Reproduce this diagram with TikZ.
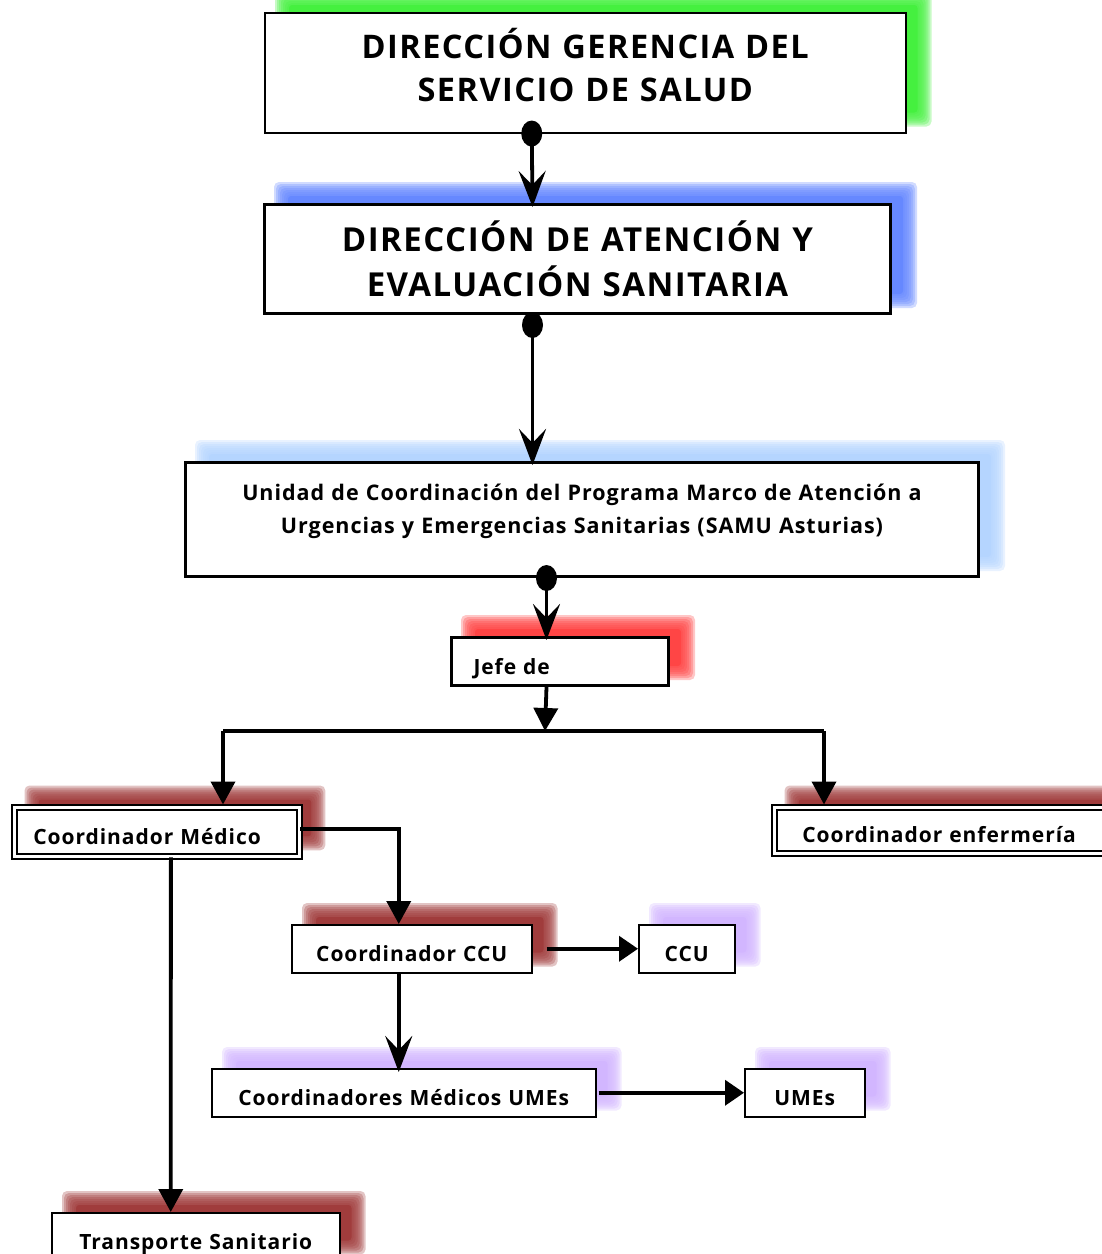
\documentclass[tikz,border=0pt]{standalone}
\usepackage{fontspec}
\setmainfont{Open Sans}[LetterSpace=4.5]
\usetikzlibrary{arrows.meta,calc}
\pgfdeclarelayer{background}
\pgfsetlayers{background,main}
\definecolor{shgreen}{HTML}{45F03F}
\definecolor{shblue}{HTML}{6688FF}
\definecolor{shlblue}{HTML}{B5D5FF}
\definecolor{shred}{HTML}{FF4545}
\definecolor{shdark}{HTML}{A03C3C}
\definecolor{shlav}{HTML}{D2B6FF}
\newcommand\glow[2]{%
 \begin{pgfonlayer}{background}
 \foreach \k in {0,...,6}{
   \fill[#2, fill opacity=0.3, rounded corners=5pt] ($(#1.north west)+({11+2*\k},{-21+2*\k})$) rectangle ($(#1.south east)+({25-2*\k},{-7-2*\k})$);
 }
 \fill[#2, rounded corners=3pt] ($(#1.north west)+(25,-7)$) rectangle ($(#1.south east)+(11,-21)$);
 \end{pgfonlayer}}
\tikzset{
 box/.style={draw, fill=white, anchor=north west, inner ysep=0pt},
 thinb/.style={line width=1.5pt},
 thickb/.style={line width=3pt},
 dblb/.style={line width=1.8pt, double=white, double distance=2.6pt},
 small/.style={font=\bfseries\fontsize{21}{25}\selectfont, text height=28pt, text depth=3pt},
 conn/.style={line width=3.8pt},
 stl/.style={conn, shorten >=-4pt, -{Stealth[length=36pt,width=27pt,inset=14pt]}},
 tri/.style={conn, -{Triangle[length=23pt,width=24pt]}},
 trih/.style={conn, -{Triangle[length=19pt,width=25pt]}},
 dot/.style={fill=black}
}
\begin{document}
\begin{tikzpicture}[x=1pt,y=-1pt]
\useasboundingbox (0,0) rectangle (1102,1254);
\clip (0,0) rectangle (1102,1254);
% boxes
\node[box, thinb, minimum width=641pt, minimum height=120pt, text width=621pt, inner xsep=10pt, align=center,
  font=\bfseries\fontsize{32.5}{43}\selectfont, text height=22pt, text depth=51pt] (b1) at (264,12)
  {DIRECCIÓN GERENCIA DEL\\SERVICIO DE SALUD};
\node[box, thickb, minimum width=626pt, minimum height=109pt, text width=606pt, inner xsep=10pt, align=center,
  font=\bfseries\fontsize{33}{45}\selectfont, text height=22pt, text depth=38pt] (b2) at (263,203)
  {DIRECCIÓN DE ATENCIÓN Y\\EVALUACIÓN SANITARIA};
\node[box, thickb, minimum width=793pt, minimum height=114pt, text width=773pt, inner xsep=10pt, align=center,
  font=\bfseries\fontsize{21.5}{33}\selectfont, text height=16pt, text depth=54pt] (b3) at (184,461)
  {Unidad de Coordinación del Programa Marco de Atención a\\Urgencias y Emergencias Sanitarias (SAMU Asturias)};
\node[box, thickb, small, minimum width=217pt, minimum height=48pt, text width=173pt, inner xsep=22pt, align=left] (b4) at (450,636) {Jefe de};
\node[box, dblb, small, minimum width=285pt, minimum height=49pt, text width=247pt, inner xsep=19pt, align=left] (b5) at (13.5,806.5) {Coordinador Médico};
\node[box, dblb, small, minimum width=360pt, minimum height=46pt, text width=304pt, inner xsep=28pt, align=left] (b6) at (773.5,806.5) {Coordinador enfermería};
\node[box, thinb, small, minimum width=240pt, minimum height=48pt, text width=230pt, inner xsep=5pt, align=center] (b7) at (291,924) {Coordinador CCU};
\node[box, thinb, small, minimum width=96pt, minimum height=48pt, text width=86pt, inner xsep=5pt, align=center] (b8) at (638,924) {CCU};
\node[box, thinb, small, minimum width=384pt, minimum height=48pt, text width=374pt, inner xsep=5pt, align=center] (b9) at (211,1068) {Coordinadores Médicos UMEs};
\node[box, thinb, small, minimum width=120pt, minimum height=48pt, text width=110pt, inner xsep=5pt, align=center] (b10) at (744,1068) {UMEs};
\node[box, thinb, small, minimum width=288pt, minimum height=48pt, text width=278pt, inner xsep=5pt, align=center] (b11) at (51,1212) {Transporte Sanitario};
% shadows
\glow{b1}{shgreen}
\glow{b2}{shblue}
\glow{b3}{shlblue}
\glow{b4}{shred}
\glow{b5}{shdark}
\glow{b6}{shdark}
\glow{b7}{shdark}
\glow{b8}{shlav}
\glow{b9}{shlav}
\glow{b10}{shlav}
\glow{b11}{shdark}
% connectors
\coordinate (d1) at ([xshift=-53.5pt]b1.south);
\coordinate (d2) at ([xshift=-45pt,yshift=-10pt]b2.south);
\coordinate (d3) at ([xshift=-35.5pt]b3.south);
\draw[stl] (d1) -- ([xshift=-45pt]b2.north);
\draw[stl] (d2) -- ([xshift=-49.5pt]b3.north);
\draw[stl] (d3) -- ([xshift=-13.5pt]b4.north);
\fill[dot] (d1) ellipse [x radius=10.5pt, y radius=13pt];
\fill[dot] (d2) ellipse [x radius=10.5pt, y radius=13pt];
\fill[dot] (d3) ellipse [x radius=10.5pt, y radius=13pt];
\coordinate (j) at (545,731);
\coordinate (jl) at (223,731);
\coordinate (jr) at (824,731);
\draw[tri] ([xshift=-13.5pt]b4.south) -- (j);
\draw[conn] (jl) -- (jr);
\draw[tri, shorten >=2pt] (jl) -- (jl |- b5.north);
\draw[tri, shorten >=2pt] (jr) -- (jr |- b6.north);
\draw[tri] ([yshift=3pt]b5.east) -| ([xshift=-13pt]b7.north);
\draw[tri] ([xshift=14pt]b5.south) -- ([xshift=-25pt]b11.north);
\draw[trih, shorten <=14pt] (b7.east) -- (b8.west);
\draw[stl] ([xshift=-13pt]b7.south) -- ([xshift=-5pt]b9.north);
\draw[trih, shorten <=2pt] (b9.east) -- (b10.west);
\end{tikzpicture}
\end{document}
